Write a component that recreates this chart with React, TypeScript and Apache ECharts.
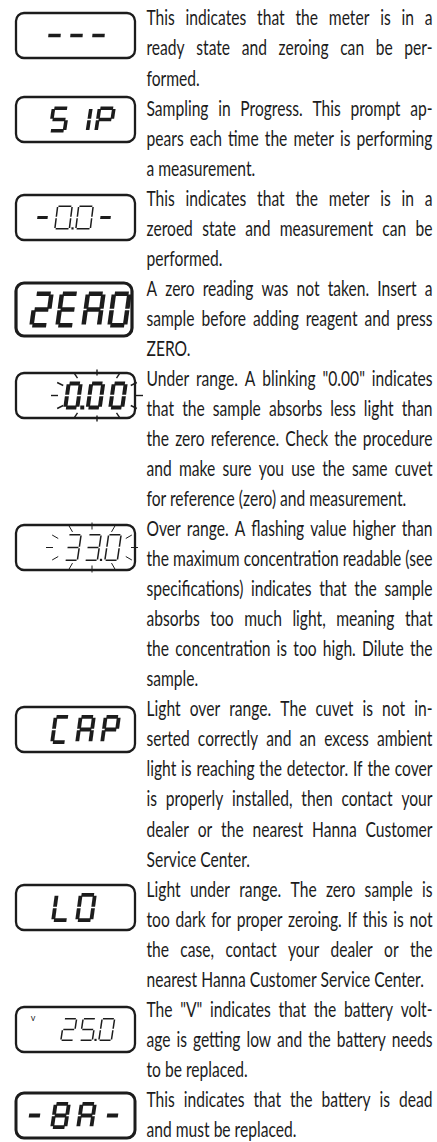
import React, { useEffect, useRef } from 'react';
import * as echarts from 'echarts';

// ---------- content ----------
const DISPLAYS: string[] = ['---', 'SIP', '-0.0-', 'ZERO', '0.00', '33.0', 'CAP', 'LO', '25.0', '-BA-'];
const BATTERY_MARK = 'v';

const PARAGRAPHS: string[][] = [
  ['This indicates that the meter is in a', 'ready state and zeroing can be per-', 'formed.'],
  ['Sampling in Progress. This prompt ap-', 'pears each time the meter is performing', 'a measurement.'],
  ['This indicates that the meter is in a', 'zeroed state and measurement can be', 'performed.'],
  ['A zero reading was not taken. Insert a', 'sample before adding reagent and press', 'ZERO.'],
  [
    'Under range. A blinking "0.00" indicates',
    'that the sample absorbs less light than',
    'the zero reference. Check the procedure',
    'and make sure you use the same cuvet',
    'for reference (zero) and measurement.',
  ],
  [
    'Over range. A flashing value higher than',
    'the maximum concentration readable (see',
    'specifications) indicates that the sample',
    'absorbs too much light, meaning that',
    'the concentration is too high. Dilute the',
    'sample.',
  ],
  [
    'Light over range. The cuvet is not in-',
    'serted correctly and an excess ambient',
    'light is reaching the detector. If the cover',
    'is properly installed, then contact your',
    'dealer or the nearest Hanna Customer',
    'Service Center.',
  ],
  [
    'Light under range. The zero sample is',
    'too dark for proper zeroing. If this is not',
    'the case, contact your dealer or the',
    'nearest Hanna Customer Service Center.',
  ],
  ['The "V" indicates that the battery volt-', 'age is getting low and the battery needs', 'to be replaced.'],
  ['This indicates that the battery is dead', 'and must be replaced.'],
];

// seven-segment map
const SEGMENTS: Record<string, string> = {
  '0': 'abcdef', '1': 'bc', '2': 'abdeg', '3': 'abcdg', '5': 'acdfg', '8': 'abcdefg',
  A: 'abcefg', P: 'abefg', E: 'adefg', C: 'adef', L: 'def', '-': 'g',
  S: 'acdfg', I: 'bc', Z: 'abdeg', R: 'abcefg', O: 'abcdef', B: 'abcdefg',
};

// ---------- layout ----------
const LINE_Y0 = 17.5;
const LINE_PITCH = 30.04;
const COL_X = 146.5;
const COL_W = 286;
const FONT_SIZE = 21;
const FONT = 'Lato';
const INK = '#1c1c1c';

type Layout = {
  top: number; x0: number; pitch: number; w: number; h: number; t: number; slant: number;
  dashT?: number; boxW?: number; boxH?: number; lw?: number;
  rays?: { a1: number; a2: number; b1: number; b2: number; lw: number; dx: number };
  mark?: boolean;
};

const LCD_LAYOUT: Layout[] = [
  { top: 13, x0: 44, pitch: 22, w: 19, h: 24, t: 3.6, slant: 2 },
  { top: 97, x0: 48, pitch: 23, w: 18, h: 26, t: 3.6, slant: 4 },
  { top: 195, x0: 33, pitch: 21, w: 16, h: 24, t: 1.5, dashT: 3.2, slant: 3 },
  { top: 283, x0: 29, pitch: 26, w: 20, h: 36, t: 4.5, slant: 5, boxW: 116, boxH: 53, lw: 3.2 },
  { top: 373, x0: 63, pitch: 22.5, w: 16, h: 28, t: 4, slant: 4, rays: { a1: 39, a2: 46, b1: 20, b2: 26, lw: 1.4, dx: 1.5 } },
  { top: 525, x0: 64, pitch: 20, w: 14, h: 27, t: 1.5, slant: 4, rays: { a1: 39, a2: 46, b1: 18, b2: 25, lw: 1, dx: -1 } },
  { top: 707, x0: 50, pitch: 25, w: 17, h: 29, t: 3.8, slant: 4 },
  { top: 885, x0: 51, pitch: 24, w: 18, h: 29, t: 3.8, slant: 4 },
  { top: 1007, x0: 60, pitch: 19, w: 14, h: 23, t: 1.5, slant: 3.5, mark: true },
  { top: 1093, x0: 24, pitch: 26, w: 17, h: 27, t: 3.8, slant: 4, lw: 3 },
];

function segmentPolys(cx: number, top: number, w: number, h: number, t: number, slant: number, ch: string) {
  const segs = SEGMENTS[ch] || '';
  const g = 0.8;
  const ht = t / 2;
  const rects: Record<string, [number, number, number, number]> = {
    a: [ht + g, 0, w - ht - g, t],
    b: [w - t, ht + g, w, h / 2 - g],
    c: [w - t, h / 2 + g, w, h - ht - g],
    d: [ht + g, h - t, w - ht - g, h],
    e: [0, h / 2 + g, t, h - ht - g],
    f: [0, ht + g, t, h / 2 - g],
    g: [ht + g, h / 2 - ht, w - ht - g, h / 2 + ht],
  };
  if (ch === '-') rects.g = [w * 0.175, h / 2 - ht, w * 0.825, h / 2 + ht];
  const P = (u: number, v: number) => [cx + u + slant * (1 - v / h), top + v];
  return segs.split('').map((s) => {
    const [u0, v0, u1, v1] = rects[s];
    return [P(u0, v0), P(u1, v0), P(u1, v1), P(u0, v1)];
  });
}

export default function App() {
  const ref = useRef<HTMLDivElement>(null);
  useEffect(() => {
    document.body.style.margin = '0';
    const el = ref.current!;
    const chart = echarts.init(el, null, { renderer: 'svg' });
    const elements: any[] = [];

    // ----- text, justified -----
    const ctx = document.createElement('canvas').getContext('2d')!;
    ctx.font = `${FONT_SIZE}px ${FONT}`;
    const mw = (s: string) => ctx.measureText(s).width;
    const spaceW = mw(' ');
    let sx = Infinity;
    PARAGRAPHS.forEach((p) =>
      p.forEach((ln, i) => {
        if (i === p.length - 1) return;
        const words = ln.split(' ');
        const nat = words.reduce((a, wd) => a + mw(wd), 0) + (words.length - 1) * spaceW;
        sx = Math.min(sx, COL_W / nat);
      })
    );
    const txt = (x: number, y: number, s: string) => ({
      type: 'text',
      x,
      y,
      scaleX: sx,
      silent: true,
      style: { text: s, fontSize: FONT_SIZE, fontFamily: FONT, fill: INK, align: 'left', verticalAlign: 'middle' },
    });
    let li = 0;
    PARAGRAPHS.forEach((p) =>
      p.forEach((ln, i) => {
        const y = LINE_Y0 + LINE_PITCH * li;
        li++;
        if (i === p.length - 1) {
          elements.push(txt(COL_X, y, ln));
          return;
        }
        const words = ln.split(' ');
        const total = words.reduce((a, wd) => a + mw(wd) * sx, 0);
        const gap = (COL_W - total) / (words.length - 1);
        let x = COL_X;
        words.forEach((wd) => {
          elements.push(txt(x, y, wd));
          x += mw(wd) * sx + gap;
        });
      })
    );

    // ----- LCD displays -----
    DISPLAYS.forEach((disp, di) => {
      const L = LCD_LAYOUT[di];
      const bw = L.boxW ?? 119;
      const bh = L.boxH ?? 45;
      elements.push({
        type: 'rect',
        shape: { x: 16, y: L.top, width: bw, height: bh, r: 8 },
        style: { fill: 'none', stroke: INK, lineWidth: L.lw ?? 2.3 },
      });
      const cyBox = L.top + bh / 2;
      const dTop = cyBox - L.h / 2;
      let cell = 0;
      let lastX = L.x0;
      for (const ch of disp.split('')) {
        if (ch === '.') {
          const ds = L.t > 2 ? L.t : 2.2;
          const px = L.x0 + (cell - 1) * L.pitch + L.w + (L.pitch - L.w) / 2 - ds / 2;
          elements.push({
            type: 'rect',
            shape: { x: px, y: dTop + L.h - ds, width: ds, height: ds },
            style: { fill: INK },
          });
          continue;
        }
        const cx = L.x0 + cell * L.pitch;
        lastX = cx + L.w + L.slant;
        const t = ch === '-' && L.dashT ? L.dashT : L.t;
        segmentPolys(cx, dTop, L.w, L.h, t, L.slant, ch).forEach((pts) =>
          elements.push({ type: 'polygon', shape: { points: pts }, style: { fill: INK } })
        );
        cell++;
      }
      if (L.rays) {
        const R = L.rays;
        const ccx = (L.x0 + lastX) / 2 + R.dx;
        for (let k = 0; k < 12; k++) {
          const th = (k * 30 * Math.PI) / 180;
          const c = Math.cos(th), s = Math.sin(th);
          elements.push({
            type: 'line',
            shape: { x1: ccx + R.a1 * c, y1: cyBox + R.b1 * s, x2: ccx + R.a2 * c, y2: cyBox + R.b2 * s },
            style: { stroke: INK, lineWidth: R.lw },
          });
        }
      }
      if (L.mark) {
        elements.push({
          type: 'text',
          x: 33,
          y: L.top + 10,
          style: { text: BATTERY_MARK, fontSize: 9, fontFamily: FONT, fill: INK, align: 'center', verticalAlign: 'middle' },
        });
      }
    });

    chart.setOption({ animation: false, backgroundColor: '#ffffff', graphic: elements });
    return () => chart.dispose();
  }, []);
  return <div ref={ref} style={{ width: 437, height: 1142 }} />;
}
